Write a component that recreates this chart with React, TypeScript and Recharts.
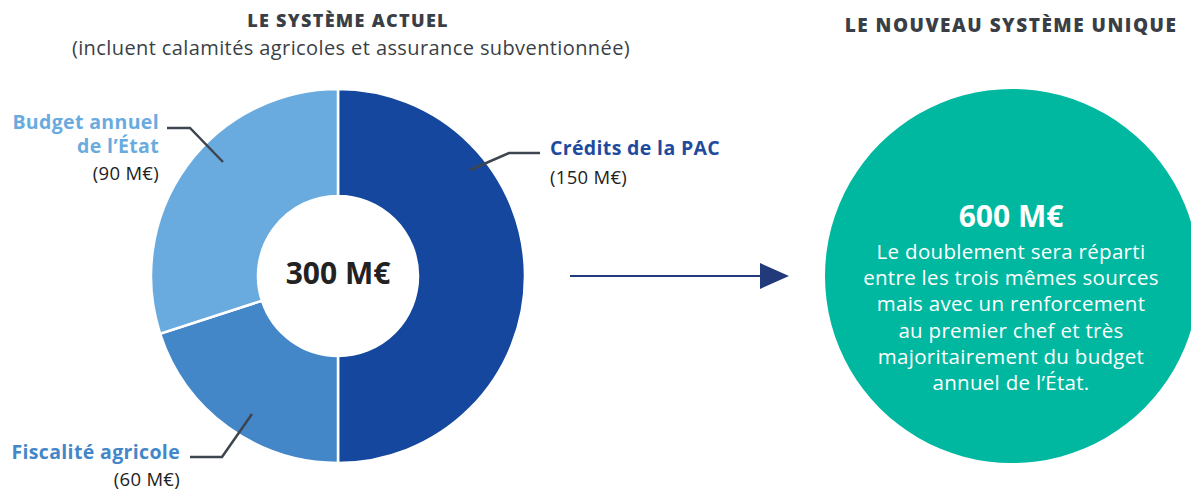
import { PieChart, Pie, Cell, Customized } from "recharts";

const sources = ["Crédits de la PAC", "Fiscalité agricole", "Budget annuel de l’État"];
const amounts = [150, 60, 90];
const sliceColors = ["#15479E", "#4387C8", "#6AABDF"];
const labelColors = ["#1F4B9E", "#4387C8", "#6AABDF"];
const totalNow = 300;
const totalNew = 600;

const data = sources.map((name, i) => ({ name, value: amounts[i] }));
const newData = [{ name: "Nouveau système unique", value: totalNew }];

const FONT = "'Open Sans', sans-serif";
const GREY = "#3A3F47";

const newText = [
  "Le doublement sera réparti",
  "entre les trois mêmes sources",
  "mais avec un renforcement",
  "au premier chef et très",
  "majoritairement du budget",
  "annuel de l’État.",
];

// label layout, offsets from the pie centre
const labelLayout = [
  { x: 212, anchor: "start", lines: [-129], value: -100, path: [[202, -123], [171, -123], [132, -106]] },
  { x: -158, anchor: "end", lines: [175], value: 202, path: [[-148, 181], [-116, 181], [-86, 138]] },
  { x: -179, anchor: "end", lines: [-155, -131], value: -104, path: [[-171, -148], [-148, -148], [-115, -114]] },
];

const renderLabel = (props: any) => {
  const { cx, cy, index, value } = props;
  const l = labelLayout[index];
  const nameLines = index === 2 ? ["Budget annuel", "de l’État"] : [sources[index]];
  const pts = l.path.map(([dx, dy]) => `${cx + dx},${cy + dy}`).join(" ");
  return (
    <g key={`lbl-${index}`}>
      <polyline points={pts} fill="none" stroke="#3D4650" strokeWidth={2.5} />
      {nameLines.map((t, k) => (
        <text key={k} x={cx + l.x} y={cy + l.lines[k]} textAnchor={l.anchor as any} dominantBaseline="central"
          fontFamily={FONT} fontWeight={700} fontSize={19.5} letterSpacing={0.35} fill={labelColors[index]}>
          {t}
        </text>
      ))}
      <text x={cx + l.x} y={cy + l.value} textAnchor={l.anchor as any} dominantBaseline="central"
        fontFamily={FONT} fontSize={18.5} letterSpacing={0.3} fill="#222">
        ({value} M€)
      </text>
    </g>
  );
};

const renderNewLabel = (props: any) => {
  const { cx, cy } = props;
  return (
    <g key="new-lbl">
      <text x={cx - 1} y={cy - 61} textAnchor="middle" dominantBaseline="central" fontFamily={FONT} fontWeight={700}
        fontSize={30} fill="#fff">{totalNew} M€</text>
      {newText.map((t, i) => (
        <text key={i} x={cx - 1} y={cy - 25 + i * 26.2} textAnchor="middle" dominantBaseline="central" fontFamily={FONT}
          fontSize={20.5} letterSpacing={0.3} fill="#fff">{t}</text>
      ))}
    </g>
  );
};

const Overlay = () => (
  <g>
    <text x={348} y={20} textAnchor="middle" dominantBaseline="central" fontFamily={FONT} fontWeight={800}
      fontSize={18} letterSpacing={1.3} fill={GREY}>LE SYSTÈME ACTUEL</text>
    <text x={351} y={47} textAnchor="middle" dominantBaseline="central" fontFamily={FONT} fontSize={20}
      letterSpacing={0.4} fill={GREY}>
      (incluent calamités agricoles et assurance subventionnée)
    </text>
    <text x={1011} y={25} textAnchor="middle" dominantBaseline="central" fontFamily={FONT} fontWeight={800}
      fontSize={19} letterSpacing={1.5} fill={GREY}>LE NOUVEAU SYSTÈME UNIQUE</text>
    <text x={338} y={272} textAnchor="middle" dominantBaseline="central" fontFamily={FONT} fontWeight={700}
      fontSize={30} fill="#222">{totalNow} M€</text>
    <line x1={570} y1={276} x2={762} y2={276} stroke="#22397A" strokeWidth={2} />
    <polygon points="760,263 789,276 760,289" fill="#22397A" />
  </g>
);

export default function App() {
  return (
    <div style={{ position: "absolute", left: 0, top: 0, background: "#fff" }}>
      <PieChart width={1191} height={490} margin={{ top: 0, right: 0, bottom: 0, left: 0 }}>
        <Pie data={data} dataKey="value" nameKey="name" cx={338} cy={276} innerRadius={80} outerRadius={187}
          startAngle={90} endAngle={-270} stroke="#fff" strokeWidth={2.5} label={renderLabel} labelLine={false}
          isAnimationActive={false}>
          {data.map((d, i) => (
            <Cell key={d.name} fill={sliceColors[i]} />
          ))}
        </Pie>
        <Pie data={newData} dataKey="value" cx={1012} cy={276} innerRadius={0} outerRadius={187}
          stroke="none" fill="#00B8A0" label={renderNewLabel} labelLine={false} isAnimationActive={false} />
        <Customized component={Overlay} />
      </PieChart>
    </div>
  );
}
